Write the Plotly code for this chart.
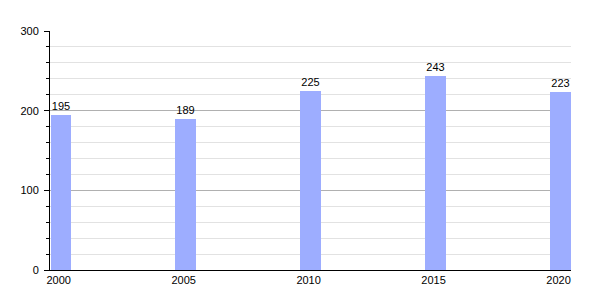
import plotly.graph_objects as go

years = [2000, 2005, 2010, 2015, 2020]
values = [195, 189, 225, 243, 223]
bar_color = "#9dadff"

fig = go.Figure(go.Bar(
    x=years, y=values, width=0.82,
    marker=dict(color=bar_color, line=dict(width=0)),
    text=[str(v) for v in values], textposition="outside",
    textfont=dict(family="Liberation Sans, Arial, sans-serif", size=11, color="black"),
    cliponaxis=False,
))

fig.update_layout(
    width=600, height=300,
    margin=dict(l=50, r=29, t=31, b=30),
    paper_bgcolor="white", plot_bgcolor="white",
    showlegend=False,
    font=dict(family="Liberation Sans, Arial, sans-serif", size=11, color="black"),
    bargap=0,
)
fig.update_xaxes(
    range=[1999.57, 2020.42], tickvals=years, ticktext=[str(y) for y in years],
    showgrid=False, zeroline=False, showline=True, linecolor="black", linewidth=1,
    ticks="", ticklen=0, ticklabelshift=-2, tickfont=dict(size=11, color="black"),
)
fig.update_yaxes(
    range=[0, 300], tickvals=[0, 100, 200, 300],
    showgrid=True, gridcolor="#b0b0b0", gridwidth=1,
    zeroline=False, showline=True, linecolor="black", linewidth=1,
    ticks="outside", ticklen=5, tickcolor="black", tickwidth=1,
    ticklabelstandoff=3,
    tickfont=dict(size=11, color="black"),
    minor=dict(dtick=20, showgrid=True, gridcolor="#e2e2e2", gridwidth=1,
               ticks="outside", ticklen=3, tickcolor="black"),
)

fig.write_html("out.html")
